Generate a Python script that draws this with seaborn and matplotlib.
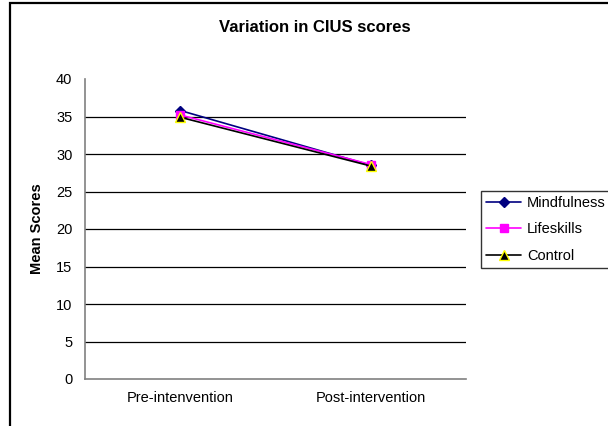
import matplotlib
matplotlib.use("Agg")
import matplotlib.pyplot as plt
import seaborn as sns
import pandas as pd
from matplotlib.patches import Rectangle

categories = ["Pre-intenvention", "Post-intervention"]
mindfulness = [35.8, 28.5]
lifeskills = [35.2, 28.6]
control = [34.9, 28.4]
series_names = ["Mindfulness", "Lifeskills", "Control"]

sns.set_theme(style="white")
plt.rcParams['font.family'] = ['Liberation Sans', 'DejaVu Sans']
for k in ["text.color", "axes.labelcolor", "xtick.color", "ytick.color"]:
    plt.rcParams[k] = "black"

fig = plt.figure(figsize=(6.08, 4.26), dpi=100)
ax = fig.add_axes([85/608, 1-379/426, (466-85)/608, (379-79)/426])

styles = {
    "Mindfulness": dict(color="#000080", marker="D", mfc="#000080", mec="#000080", ms=5),
    "Lifeskills": dict(color="#FF00FF", marker="s", mfc="#FF00FF", mec="#FF00FF", ms=6),
    "Control": dict(color="#000000", marker="^", mfc="#000000", mec="#FFFF00", ms=6.5),
}
data = {"Mindfulness": mindfulness, "Lifeskills": lifeskills, "Control": control}

for name in series_names:
    df = pd.DataFrame({"x": categories, "y": data[name]})
    st = styles[name]
    sns.lineplot(data=df, x="x", y="y", ax=ax, color=st["color"], marker=st["marker"],
                 markerfacecolor=st["mfc"], markeredgecolor=st["mec"], markersize=st["ms"],
                 markeredgewidth=1, linewidth=1.2, label=name, sort=False)

ax.set_xlim(-0.5, 1.5)
ax.set_ylim(0, 40)
ax.set_yticks(range(0, 41, 5))
for v in range(5, 40, 5):
    ax.axhline(v, color="black", linewidth=0.9, zorder=0)

ax.set_xticks([-0.5, 0.5, 1.5])
ax.set_xticklabels([])
ax.set_xticks([0, 1], minor=True)
ax.set_xticklabels(categories, minor=True, fontsize=10.5)
ax.tick_params(axis="x", which="minor", length=0, pad=9)
ax.tick_params(axis="x", which="major", direction="in", length=4, color="#808080", width=1)
ax.tick_params(axis="y", direction="out", length=5, color="#808080", width=1, labelsize=10.5, pad=4)
ax.set_xlabel("")
ax.set_ylabel("Mean Scores", fontsize=10.5, fontweight="bold", labelpad=9)

for s in ["top", "right"]:
    ax.spines[s].set_visible(False)
for s in ["left", "bottom"]:
    ax.spines[s].set_color("#808080")
    ax.spines[s].set_linewidth(1.2)

leg_handles, leg_labels = ax.get_legend_handles_labels()
if ax.legend_:
    ax.legend_.remove()
leg = fig.legend(leg_handles, leg_labels, loc="upper left",
                 bbox_to_anchor=(481/608, 1-191/426), fontsize=10.5,
                 frameon=True, fancybox=False, handlelength=2.4,
                 labelspacing=0.85, borderpad=0.35, handletextpad=0.4,
                 borderaxespad=0)
leg.get_frame().set_edgecolor("black")
leg.get_frame().set_linewidth(1.0)

fig.text(315/608, 1-27/426, "Variation in CIUS scores", ha="center", va="center",
         fontsize=12, fontweight="bold")

fig.patches.append(Rectangle((10/608, -0.1), 1.2, 1.1 - 3/426, transform=fig.transFigure,
                             fill=False, edgecolor="black", linewidth=1.6))

fig.savefig("out.png", dpi=100)
